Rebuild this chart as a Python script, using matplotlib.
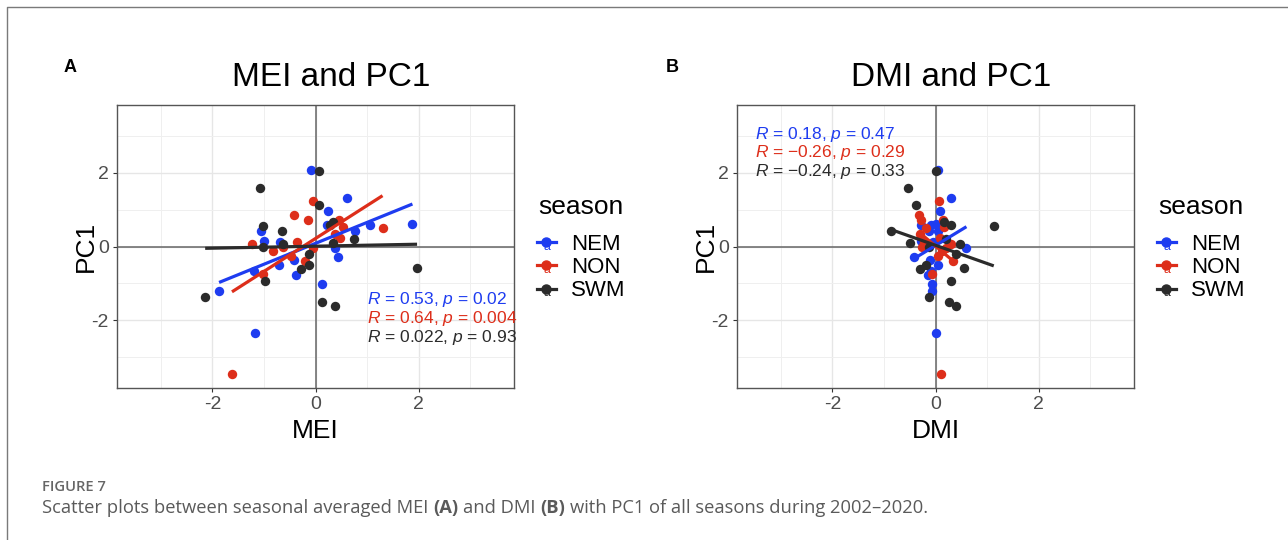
import numpy as np
import matplotlib
matplotlib.use('Agg')
import matplotlib.pyplot as plt
from matplotlib.lines import Line2D
from matplotlib.text import Text
from matplotlib.legend_handler import HandlerLine2D
from matplotlib.ticker import MultipleLocator

plt.rcParams['font.family'] = ['Liberation Sans', 'DejaVu Sans']
plt.rcParams['mathtext.fontset'] = 'custom'
plt.rcParams['mathtext.rm'] = 'Liberation Sans'
plt.rcParams['mathtext.it'] = 'Liberation Sans:italic'
plt.rcParams['axes.unicode_minus'] = False

# seasonal averages 2002-2020
seasons = ['NEM', 'NON', 'SWM']
colors = {'NEM': '#1E3CF0', 'NON': '#DD2E1A', 'SWM': '#2B2B2B'}

mei_nem = [-0.08, 0.62, 0.25, 0.23, 0.76, 1.05, 1.88, -1.06, -1.00, -0.69, 0.38, 0.43, -0.42, -0.71, -1.19, -0.37, 0.12, -1.87, -1.17]
dmi_nem = [0.05, 0.30, 0.08, -0.28, -0.12, -0.08, 0.01, 0.04, -0.28, -0.04, 0.60, -0.41, -0.10, 0.04, -0.08, -0.15, -0.07, -0.06, 0.00]
pc1_nem = [2.09, 1.32, 0.96, 0.58, 0.41, 0.59, 0.60, 0.43, 0.14, 0.11, -0.05, -0.29, -0.36, -0.49, -0.68, -0.78, -1.02, -1.20, -2.34]

mei_non = [-0.05, -0.41, -0.15, 0.46, 0.54, 1.30, 0.38, 0.47, -1.23, -0.35, -0.63, -0.83, -0.05, -0.47, -0.21, -1.02, -1.62]
dmi_non = [0.06, -0.32, -0.28, 0.14, 0.17, -0.18, -0.30, 0.08, 0.31, -0.22, -0.26, 0.12, 0.20, 0.05, 0.34, -0.06, 0.11]
pc1_non = [1.23, 0.86, 0.73, 0.71, 0.53, 0.50, 0.34, 0.24, 0.07, 0.11, 0.00, -0.12, -0.05, -0.27, -0.40, -0.76, -3.48]

mei_swm = [0.07, -1.07, 0.07, 0.33, 0.28, -1.01, -0.65, 0.75, -0.63, 0.34, -1.02, -0.12, -0.12, -0.28, -0.97, 1.97, -2.14, 0.12, 0.38]
dmi_swm = [0.00, -0.54, -0.38, 0.16, 0.31, 1.13, -0.87, 0.20, 0.47, -0.49, -0.12, 0.39, -0.18, -0.30, 0.30, 0.55, -0.13, 0.26, 0.39]
pc1_swm = [2.06, 1.59, 1.13, 0.68, 0.59, 0.56, 0.41, 0.20, 0.07, 0.09, -0.01, -0.20, -0.49, -0.60, -0.94, -0.59, -1.37, -1.50, -1.62]

mei = {'NEM': mei_nem, 'NON': mei_non, 'SWM': mei_swm}
dmi = {'NEM': dmi_nem, 'NON': dmi_non, 'SWM': dmi_swm}
pc1 = {'NEM': pc1_nem, 'NON': pc1_non, 'SWM': pc1_swm}

cor_mei = ['$R$ = 0.53, $p$ = 0.02', '$R$ = 0.64, $p$ = 0.004', '$R$ = 0.022, $p$ = 0.93']
cor_dmi = ['$R$ = 0.18, $p$ = 0.47', '$R$ = \u22120.26, $p$ = 0.29', '$R$ = \u22120.24, $p$ = 0.33']


class KeyWithA(HandlerLine2D):
    # ggplot-style key: line + point + small "a" from the text layer
    def create_artists(self, legend, orig_handle, xdescent, ydescent, width, height, fontsize, trans):
        arts = super().create_artists(legend, orig_handle, xdescent, ydescent, width, height,
                                      fontsize, trans)
        t = Text(width / 2 - xdescent, height / 2 - ydescent - 0.3 * height, 'a',
                 color=orig_handle.get_color(), fontsize=fontsize * 0.55, ha='center', va='center')
        t.set_transform(trans)
        return list(arts) + [t]


W, H = 1288, 540
fig = plt.figure(figsize=(W / 100, H / 100), dpi=100)


def px(x, y):
    return x / W, 1 - y / H


def panel(left, xdata, xlabel, title, cors, txt_xy, title_x, leg_x):
    ax = fig.add_axes([left / W, 1 - 388 / H, 397 / W, 283 / H])
    ax.set_xlim(-3.85, 3.85)
    ax.set_ylim(-3.85, 3.85)
    ax.xaxis.set_major_locator(MultipleLocator(2))
    ax.yaxis.set_major_locator(MultipleLocator(2))
    ax.xaxis.set_minor_locator(MultipleLocator(1))
    ax.yaxis.set_minor_locator(MultipleLocator(1))
    ax.grid(which='major', color='#E6E6E6', lw=1.0)
    ax.grid(which='minor', color='#EFEFEF', lw=0.7)
    ax.set_axisbelow(True)
    ax.axhline(0, color='#666666', lw=1.1, zorder=1)
    ax.axvline(0, color='#666666', lw=1.1, zorder=1)
    for s in ax.spines.values():
        s.set_color('#555555')
        s.set_linewidth(1.0)
    ax.tick_params(which='major', length=3, width=0.8, color='#333333', labelsize=14,
                   labelcolor='#4D4D4D', pad=3)
    ax.tick_params(which='minor', length=0)

    handles = []
    for s in seasons:
        x = np.array(xdata[s])
        y = np.array(pc1[s])
        ax.scatter(x, y, s=46, color=colors[s], linewidths=0, zorder=3)
        k, b = np.polyfit(x, y, 1)
        xs = np.array([x.min(), x.max()])
        ax.plot(xs, k * xs + b, color=colors[s], lw=2.3, zorder=4, solid_capstyle='butt')
        handles.append(Line2D([], [], color=colors[s], lw=2.3, marker='o', markersize=6.5))

    tx, ty = txt_xy
    for i, s in enumerate(seasons):
        ax.text(tx, ty - 0.51 * i, cors[i], color=colors[s], fontsize=12.5, ha='left', va='center',
                zorder=5)

    ax.set_xlabel(xlabel, fontsize=19)
    ax.set_ylabel('PC1', fontsize=19)
    ax.xaxis.set_label_coords(0.5, -0.152)
    ax.yaxis.set_label_coords(-0.079, 0.5)
    ax.xaxis.label.set_va('center')
    ax.yaxis.label.set_va('center')

    fig.text(*px(title_x, 78), title, fontsize=24, ha='center', va='center')
    fig.text(*px(leg_x + 1, 207), 'season', fontsize=19, ha='left', va='center')
    fig.legend(handles, seasons, loc='upper left', bbox_to_anchor=px(leg_x, 234),
               frameon=False, fontsize=16, handlelength=0.85, handletextpad=0.7,
               labelspacing=0.1, borderpad=0, borderaxespad=0,
               handler_map={Line2D: KeyWithA()})
    return ax


panel(117, mei, 'MEI', 'MEI and PC1', cor_mei, (1.0, -1.45), 331, 537)
panel(737, dmi, 'DMI', 'DMI and PC1', cor_dmi, (-3.5, 3.06), 951, 1157)

fig.text(*px(70, 67), 'A', fontsize=13, fontweight='bold', ha='center', va='center')
fig.text(*px(672, 67), 'B', fontsize=13, fontweight='bold', ha='center', va='center')

# page frame (top and left edges)
fig.add_artist(Line2D([7 / W, 7 / W, 1], [0, 1 - 7 / H, 1 - 7 / H], transform=fig.transFigure,
                      color='#7A7A7A', lw=1.0))

# caption
cap_font = ['Open Sans', 'DejaVu Sans']
cap_size = 13.2
fig.text(*px(42, 487), 'FIGURE 7', fontsize=10.6, fontweight='semibold', color='#666666',
         family=cap_font, ha='left', va='center')

renderer = fig.canvas.get_renderer()


def text_w(s, weight):
    t = fig.text(0, 0, s, fontsize=cap_size, fontweight=weight, family=cap_font)
    w = t.get_window_extent(renderer).width
    t.remove()
    return w


space = text_w('x x', 'normal') - text_w('xx', 'normal')
parts = [('Scatter plots between seasonal averaged MEI', 'normal'), ('(A)', 'bold'),
         ('and DMI', 'normal'), ('(B)', 'bold'),
         ('with PC1 of all seasons during 2002\u20132020.', 'normal')]
x0 = 42
for s, wt in parts:
    t = fig.text(*px(x0, 508), s, fontsize=cap_size, fontweight=wt, color='#5A5A5A',
                 family=cap_font, ha='left', va='center')
    x0 += t.get_window_extent(renderer).width + space

fig.savefig('out.png', dpi=100)
